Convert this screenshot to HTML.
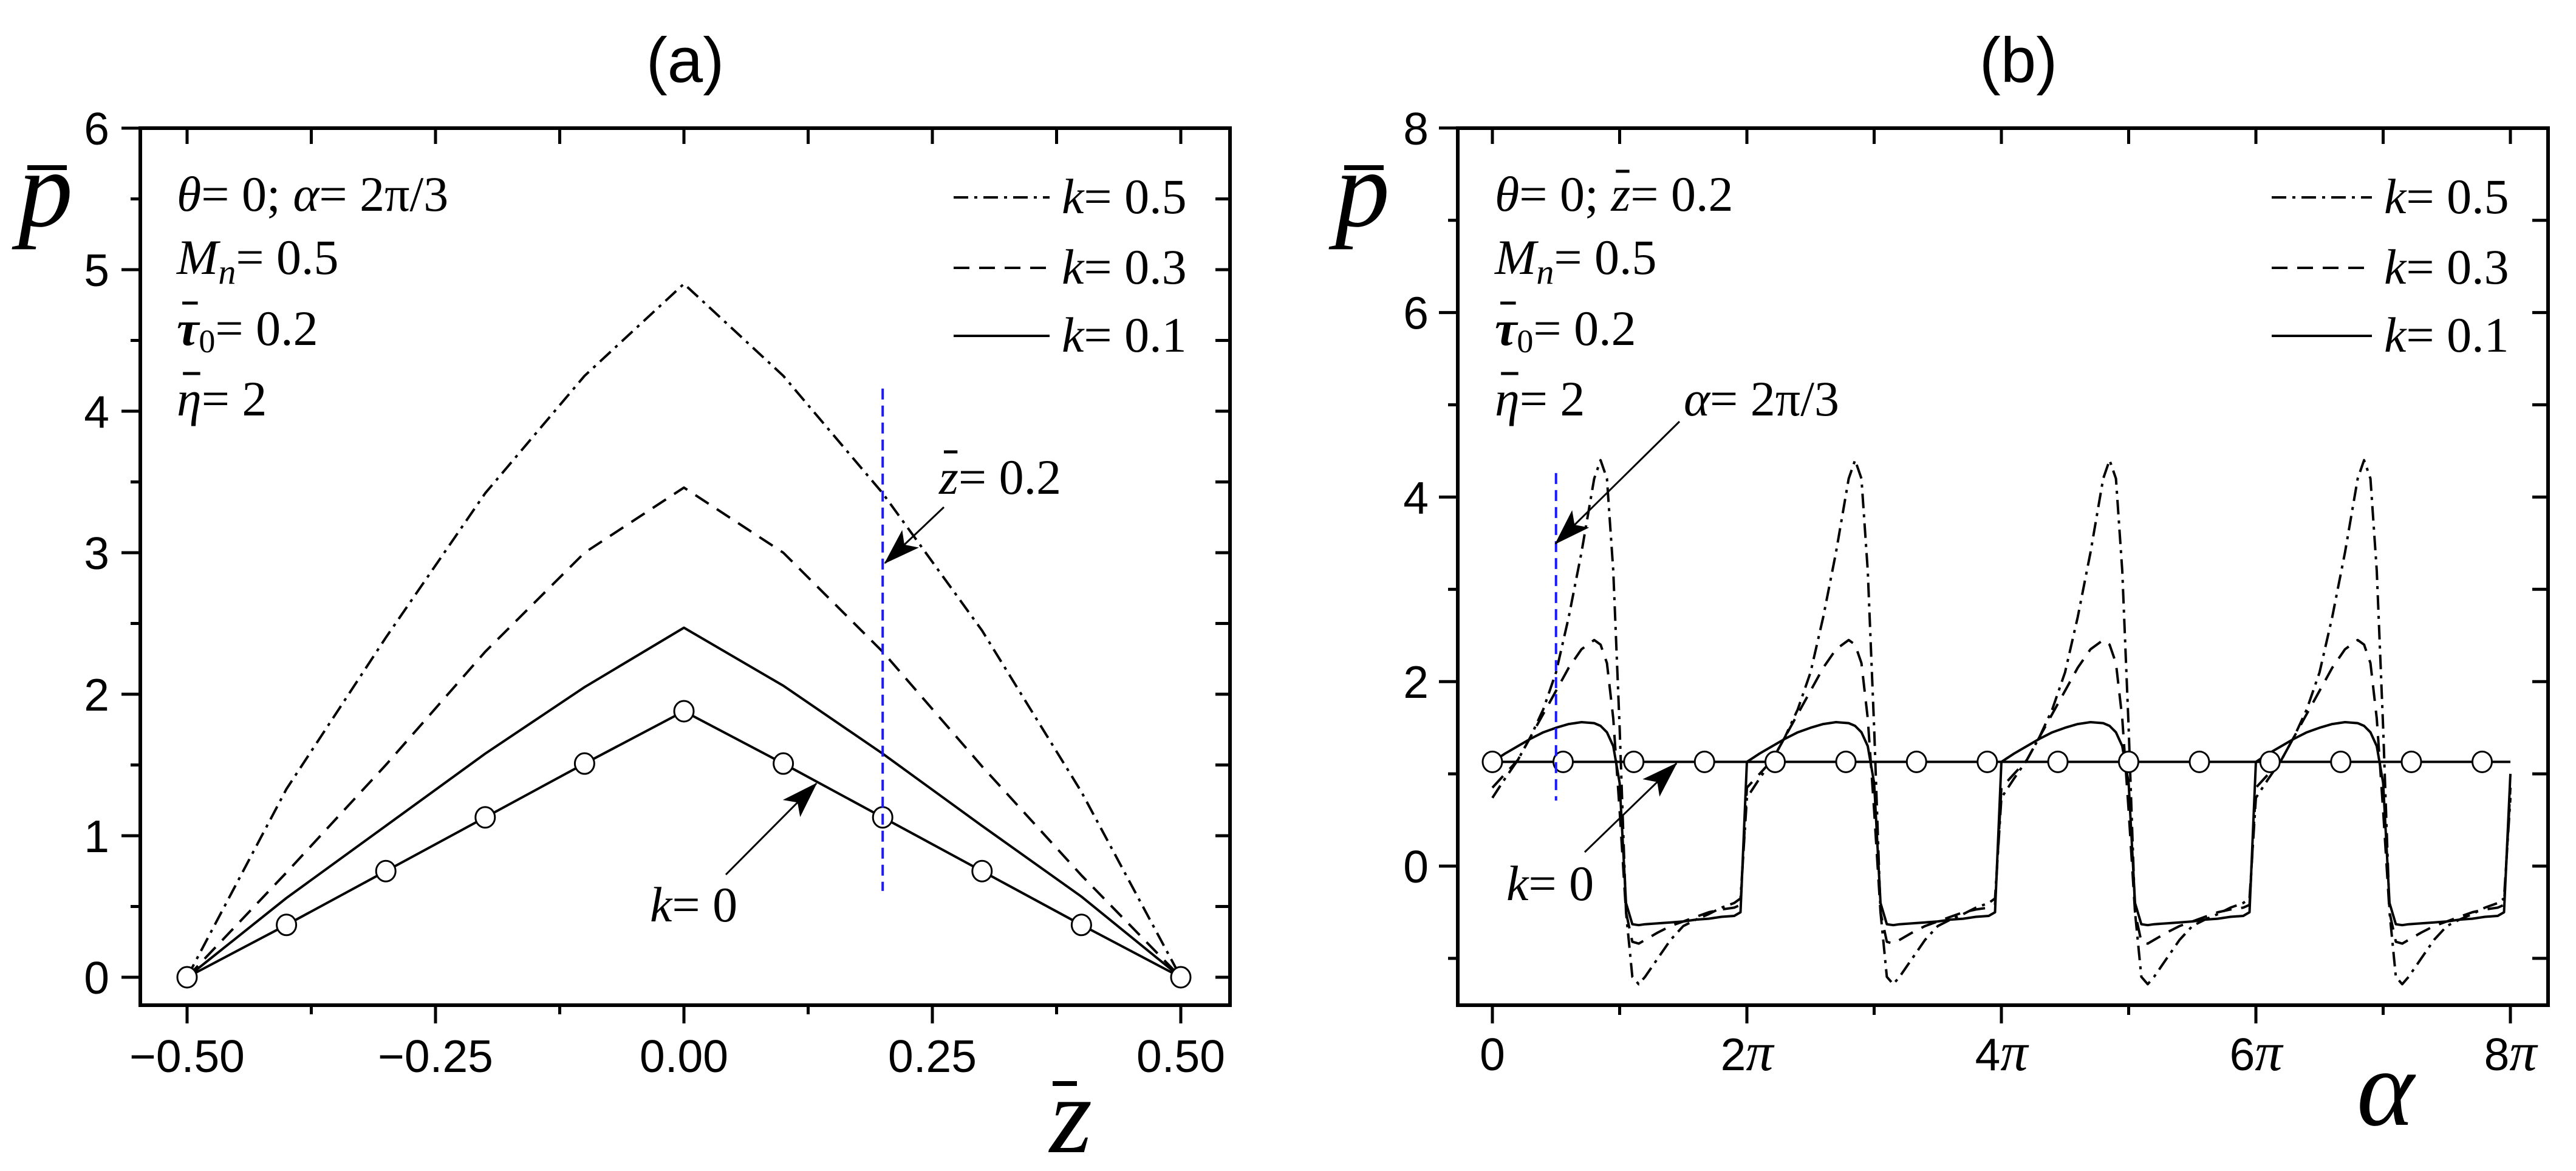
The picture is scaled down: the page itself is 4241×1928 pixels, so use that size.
<!DOCTYPE html>
<html><head><meta charset="utf-8">
<style>
html,body{margin:0;padding:0;background:#fff;}
svg{display:block;}
text{font-family:"Liberation Serif",serif;fill:#000;}
.sans{font-family:"Liberation Sans",sans-serif;}
</style></head>
<body>
<svg id="fig" width="4241" height="1928" viewBox="0 0 4241 1928" xmlns="http://www.w3.org/2000/svg">
<defs>
<marker id="ahb" viewBox="0 0 60 40" refX="58" refY="20" markerWidth="60" markerHeight="40" markerUnits="userSpaceOnUse" orient="auto">
<path d="M0,0 L60,20 L0,40 L14,20 Z" fill="#000"/>
</marker>
</defs>
<g id="pa"></g>
<g id="pb"></g>
</svg>
<script>
// ---------- Panel (a) data ----------
const zCats = [-0.5,-0.4,-0.3,-0.2,-0.1,0,0.1,0.2,0.3,0.4,0.5];
const aK05 = [0,1.33,2.4,3.42,4.25,4.9,4.25,3.42,2.45,1.31,0];
const aK03 = [0,0.74,1.5,2.3,3.0,3.46,3.0,2.3,1.49,0.72,0];
const aK01 = [0,0.56,1.07,1.58,2.05,2.47,2.06,1.58,1.07,0.57,0];
const aK0  = [0,0.37,0.75,1.13,1.51,1.88,1.51,1.13,0.75,0.37,0];
const aYTicks = [0,1,2,3,4,5,6];
const aXTicks = [-0.5,-0.25,0,0.25,0.5];
const aXTickLabels = ["\u22120.50","\u22120.25","0.00","0.25","0.50"];

// ---------- Panel (b) data (alpha in units of pi) ----------
const bPhase = [0,0.1,0.2,0.3,0.4,0.5,0.6,0.7,0.8,0.85,0.9,0.95,1.0,1.05,1.1,1.15,1.2,1.3,1.4,1.5,1.6,1.7,1.8,1.9,1.95];
const bK05 = [0.74,0.95,1.15,1.4,1.7,2.1,2.7,3.4,4.2,4.4,4.2,3.2,1.5,-0.5,-1.2,-1.28,-1.2,-1.0,-0.8,-0.65,-0.58,-0.52,-0.45,-0.4,-0.35];
const bK03 = [0.85,1.0,1.15,1.4,1.65,1.9,2.15,2.35,2.45,2.4,2.2,1.6,0.6,-0.5,-0.82,-0.84,-0.8,-0.72,-0.65,-0.6,-0.55,-0.5,-0.47,-0.45,-0.42];
const bK01 = [1.13,1.22,1.3,1.38,1.45,1.5,1.54,1.56,1.55,1.52,1.45,1.3,0.9,-0.4,-0.63,-0.64,-0.63,-0.62,-0.61,-0.6,-0.58,-0.57,-0.55,-0.54,-0.5];
const bPeriods = [0,2,4,6];
const bEndAlpha = 8;
const bEndK05 = 0.74, bEndK03 = 0.85, bEndK01 = 1.0;
const bK0Level = 1.13;
const bK0Markers = [0,0.556,1.111,1.667,2.222,2.778,3.333,3.889,4.444,5.0,5.556,6.111,6.667,7.222,7.778];
const bYTicks = [0,2,4,6,8];
const bXTicks = [0,2,4,6,8];
const bXTickLabels = ["0","2","4","6","8"];

const NS = "http://www.w3.org/2000/svg";
function el(parent, tag, attrs, txt){
  const e = document.createElementNS(NS, tag);
  for (const k in attrs) e.setAttribute(k, attrs[k]);
  if (txt !== undefined) e.textContent = txt;
  parent.appendChild(e);
  return e;
}

const axA = {x:z=>1126+1636*z, y:v=>1609-233*v, L:231, R:2025, T:211, B:1655};
const axB = {x:a=>2457+209.5*a, y:v=>1426-151.9*v, L:2400, R:4195, T:211, B:1655};

function frame(g, ax){
  const r = el(g,'rect',{x:ax.L,y:ax.T,width:ax.R-ax.L,height:ax.B-ax.T,fill:'none',stroke:'#000','stroke-width':6});
  
  
}
function tick(g, x1,y1,x2,y2,name){
  const t = el(g,'line',{x1:x1,y1:y1,x2:x2,y2:y2,stroke:'#000','stroke-width':5});
  
  
}
function pathFrom(g, xs, ys, ax, dash, name){
  let d='';
  for (let i=0;i<xs.length;i++) d += (i?'L':'M') + ax.x(xs[i]).toFixed(1)+','+ax.y(ys[i]).toFixed(1);
  const attrs = {d:d,fill:'none',stroke:'#000','stroke-width':4,'stroke-linejoin':'round'};
  if (dash) attrs['stroke-dasharray']=dash;
  const p = el(g,'path',attrs);
  
  
  return p;
}
function marker(g, cx, cy, name){
  const c = el(g,'ellipse',{cx:cx,cy:cy,rx:16,ry:17,fill:'#fff',stroke:'#000','stroke-width':3});
  
  
}
function txt(g, x, y, size, html, name, anchor, cls){
  const t = el(g,'text',{x:x,y:y,'font-size':size,'text-anchor':anchor||'start'});
  if (cls) t.setAttribute('class',cls);
  t.innerHTML = html;
  
  
  return t;
}
function overbar(g, t, idx, dy, name){
  try{
    const r = t.getExtentOfChar(idx);
    const b = el(g,'line',{x1:r.x+r.width*0.25,y1:r.y+dy,x2:r.x+r.width*0.95,y2:r.y+dy,stroke:'#000','stroke-width':5});
    
    
  }catch(e){}
}
function arrow(g,x1,y1,x2,y2,name){
  const a = el(g,'line',{x1:x1,y1:y1,x2:x2,y2:y2,stroke:'#000','stroke-width':3,'marker-end':'url(#ahb)'});
  
  
}
function bar(g,x1,x2,y,name){
  const b = el(g,'line',{x1:x1,y1:y,x2:x2,y2:y,stroke:'#000','stroke-width':8});
  
  
}
function legend(g, x1, x2, y, dash, label, name){
  const attrs = {x1:x1,y1:y,x2:x2,y2:y,stroke:'#000','stroke-width':4};
  if (dash) attrs['stroke-dasharray']=dash;
  const l = el(g,'line',attrs);
  
  
  txt(g, x2+20, y+26, 82, '<tspan font-style="italic">k</tspan>= '+label, name+'-label');
}
const D05 = "24,10,5,10", D03 = "26,16";

function params(g, x, firstHtml, firstBarIdx){
  const t1 = txt(g, x, 347, 82, firstHtml, 'param-line-1');
  if (firstBarIdx !== null) overbar(g, t1, firstBarIdx, 8, 'param-bar');
  txt(g, x, 451, 82, '<tspan font-style="italic">M</tspan><tspan font-style="italic" font-size="58" dy="16">n</tspan><tspan dy="-16">= 0.5</tspan>', 'param-mn');
  const t3 = txt(g, x, 568, 82, '<tspan font-style="italic" font-weight="bold">τ</tspan><tspan font-size="54" dy="12">0</tspan><tspan dy="-12">= 0.2</tspan>', 'param-tau');
  overbar(g, t3, 0, 4, 'tau-bar');
  const t4 = txt(g, x, 684, 82, '<tspan font-style="italic">η</tspan>= 2', 'param-eta');
  overbar(g, t4, 0, 4, 'eta-bar');
}

// ================= Panel A =================
(function(){
  const g = document.getElementById('pa');
  const ax = axA;
  txt(g, 1128, 135, 105, '(a)', 'panel-a-title', 'middle', 'sans');
  for (let v=0; v<=6; v+=0.5){
    const major = Number.isInteger(v);
    tick(g, ax.L-(major?31:16), ax.y(v), ax.L, ax.y(v), major?'y-tick-major':'y-tick-minor');
    tick(g, ax.R-24, ax.y(v), ax.R, ax.y(v), 'y-tick-right');
  }
  aYTicks.forEach(v=>txt(g, ax.L-51, ax.y(v)+27, 75, String(v), 'y-tick-label', 'end', 'sans'));
  for (let z=-0.5; z<=0.5001; z+=0.125){
    const major = Math.abs(z*4-Math.round(z*4))<1e-6;
    tick(g, ax.x(z), ax.B, ax.x(z), ax.B+(major?30:15), major?'x-tick-major':'x-tick-minor');
    tick(g, ax.x(z), ax.T, ax.x(z), ax.T+26, 'x-tick-top');
  }
  aXTicks.forEach((z,i)=>txt(g, ax.x(z), 1765, 75, aXTickLabels[i], 'x-tick-label', 'middle', 'sans'));
  frame(g, ax);
  pathFrom(g, zCats, aK05, ax, D05, 'series-k05');
  pathFrom(g, zCats, aK03, ax, D03, 'series-k03');
  pathFrom(g, zCats, aK01, ax, null, 'series-k01');
  pathFrom(g, zCats, aK0, ax, null, 'series-k0');
  zCats.forEach((z,i)=>marker(g, ax.x(z), ax.y(aK0[i]), 'marker-k0'));
  const bl = el(g,'line',{x1:ax.x(0.2),y1:ax.y(4.16),x2:ax.x(0.2),y2:ax.y(0.61),stroke:'#1a1aff','stroke-width':4,'stroke-dasharray':'18,10'});
  
  
  params(g, 291, '<tspan font-style="italic">θ</tspan>= 0; <tspan font-style="italic">α</tspan>= 2π/3', null);
  legend(g, 1570, 1728, 325, D05, '0.5', 'legend-k05');
  legend(g, 1570, 1728, 441, D03, '0.3', 'legend-k03');
  legend(g, 1570, 1728, 553, null, '0.1', 'legend-k01');
  const tz = txt(g, 1546, 813, 82, '<tspan font-style="italic">z</tspan>= 0.2', 'annotation-z02');
  overbar(g, tz, 0, 4, 'z-bar');
  arrow(g, 1554, 835, 1457, 927, 'arrow-z02');
  txt(g, 1070, 1517, 82, '<tspan font-style="italic">k</tspan>= 0', 'annotation-k0');
  arrow(g, 1195, 1440, 1344, 1290, 'arrow-k0');
  txt(g, 30, 372, 180, '<tspan font-style="italic">p</tspan>', 'y-axis-title');
  bar(g, 45, 110, 276, 'y-axis-title-bar');
  txt(g, 1728, 1897, 180, '<tspan font-style="italic">z</tspan>', 'x-axis-title');
  bar(g, 1733, 1773, 1784, 'x-axis-title-bar');
})();

// ================= Panel B =================
(function(){
  const g = document.getElementById('pb');
  const ax = axB;
  txt(g, 3323, 135, 105, '(b)', 'panel-b-title', 'middle', 'sans');
  for (let v=-1; v<=8; v+=1){
    const major = v%2===0;
    tick(g, ax.L-(major?31:16), ax.y(v), ax.L, ax.y(v), major?'y-tick-major':'y-tick-minor');
    tick(g, ax.R-26, ax.y(v), ax.R, ax.y(v), 'y-tick-right');
  }
  bYTicks.forEach(v=>txt(g, ax.L-48, ax.y(v)+27, 75, String(v), 'y-tick-label', 'end', 'sans'));
  for (let a=0; a<=8; a+=1){
    const major = a%2===0;
    tick(g, ax.x(a), ax.B, ax.x(a), ax.B+(major?30:16), major?'x-tick-major':'x-tick-minor');
    tick(g, ax.x(a), ax.T, ax.x(a), ax.T+26, 'x-tick-top');
  }
  bXTicks.forEach((a,i)=>{
    if (bXTickLabels[i]==='0') txt(g, ax.x(a), 1762, 75, '0', 'x-tick-label', 'middle', 'sans');
    else txt(g, ax.x(a), 1762, 75, '<tspan class="sans">'+bXTickLabels[i]+'</tspan><tspan font-style="italic" font-size="90">π</tspan>', 'x-tick-label', 'middle');
  });
  frame(g, ax);
  function build(vals, endV){
    const xs=[], ys=[];
    bPeriods.forEach(p=>{ bPhase.forEach((ph,j)=>{ xs.push(p+ph); ys.push(vals[j]); }); });
    xs.push(bEndAlpha); ys.push(endV);
    return [xs, ys];
  }
  let s = build(bK05, bEndK05); pathFrom(g, s[0], s[1], ax, D05, 'series-k05');
  s = build(bK03, bEndK03); pathFrom(g, s[0], s[1], ax, D03, 'series-k03');
  s = build(bK01, bEndK01); pathFrom(g, s[0], s[1], ax, null, 'series-k01');
  pathFrom(g, [0, bEndAlpha], [bK0Level, bK0Level], ax, null, 'series-k0');
  bK0Markers.forEach(a=>marker(g, ax.x(a), ax.y(bK0Level), 'marker-k0'));
  const bl = el(g,'line',{x1:ax.x(0.5),y1:ax.y(4.26),x2:ax.x(0.5),y2:ax.y(0.71),stroke:'#1a1aff','stroke-width':4,'stroke-dasharray':'18,10'});
  
  
  params(g, 2461, '<tspan font-style="italic">θ</tspan>= 0; <tspan font-style="italic">z</tspan>= 0.2', 6);
  legend(g, 3740, 3905, 325, D05, '0.5', 'legend-k05');
  legend(g, 3740, 3905, 441, D03, '0.3', 'legend-k03');
  legend(g, 3740, 3905, 553, null, '0.1', 'legend-k01');
  txt(g, 2772, 684, 82, '<tspan font-style="italic">α</tspan>= 2π/3', 'annotation-alpha');
  arrow(g, 2765, 694, 2561, 895, 'arrow-alpha');
  txt(g, 2480, 1482, 82, '<tspan font-style="italic">k</tspan>= 0', 'annotation-k0');
  arrow(g, 2609, 1403, 2760, 1257, 'arrow-k0');
  txt(g, 2198, 372, 180, '<tspan font-style="italic">p</tspan>', 'y-axis-title');
  bar(g, 2213, 2278, 276, 'y-axis-title-bar');
  txt(g, 3880, 1852, 180, '<tspan font-style="italic">α</tspan>', 'x-axis-title');
})();
</script>
</body></html>
